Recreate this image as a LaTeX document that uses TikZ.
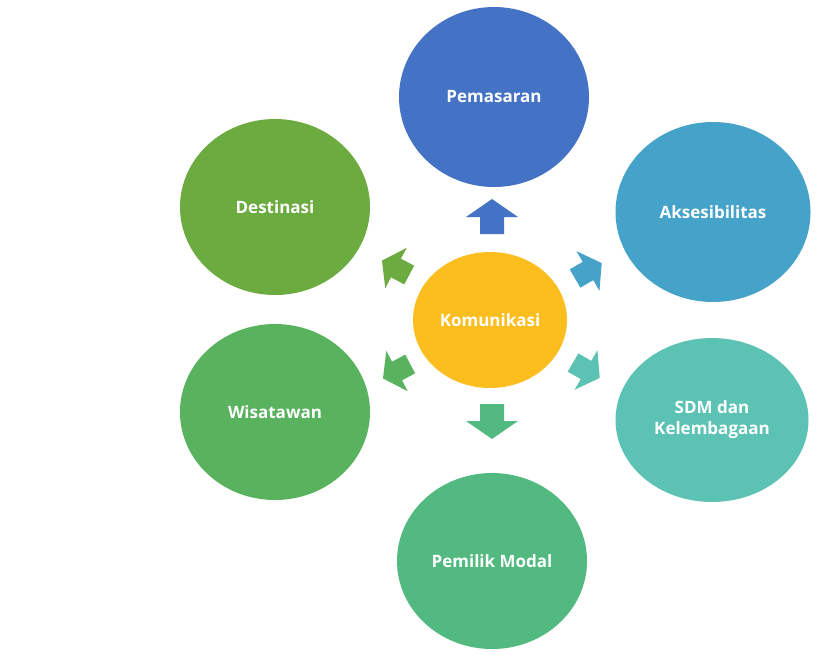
\documentclass[tikz,border=0pt]{standalone}
\usepackage{fontspec}
\setmainfont{Open Sans}
\usetikzlibrary{shapes.geometric}
\definecolor{cBlue}{HTML}{4472C4}
\definecolor{cAks}{HTML}{45A2C8}
\definecolor{cSdm}{HTML}{5CC3B4}
\definecolor{cMod}{HTML}{52BA80}
\definecolor{cWis}{HTML}{58B25E}
\definecolor{cDes}{HTML}{6CAB40}
\definecolor{cKom}{HTML}{FBBE1E}
\tikzset{
  bubble/.style={ellipse, inner sep=0pt, minimum width=190pt, minimum height=180pt,
    text=white, font=\fontsize{17}{21}\selectfont\bfseries, align=center},
  core/.style={bubble, minimum width=154pt, minimum height=136pt},
  blockarrow/.pic={\fill (18,0) -- (0,26) -- (0,12) -- (-17,12) -- (-17,-12) -- (0,-12) -- (0,-26) -- cycle;},
  diag/.style={scale=0.88}
}
\begin{document}
\begin{tikzpicture}[x=1pt,y=-1pt]
\useasboundingbox (0,0) rectangle (826,657);
\fill[white] (0,0) rectangle (826,657);
\node[bubble, fill=cBlue] (pem) at (494,97) {Pemasaran};
\node[bubble, fill=cDes, minimum height=176pt] (des) at (275,207) {Destinasi};
\node[bubble, fill=cAks, minimum width=195pt] (aks) at (713,212) {Aksesibilitas};
\node[bubble, fill=cWis, minimum height=176pt] (wis) at (275,412) {Wisatawan};
\node[bubble, fill=cSdm, minimum width=193pt, minimum height=164pt] (sdm) at (712,420) {SDM dan\\Kelembagaan};
\node[bubble, fill=cMod, minimum height=176pt] (mod) at (492,561) {Pemilik Modal};
\node[core, fill=cKom] (kom) at (490,320) {Komunikasi};
\coordinate (a1) at (492,217);
\coordinate (a2) at (396,268);
\coordinate (a3) at (588,271);
\coordinate (a4) at (397,371);
\coordinate (a5) at (586,370);
\coordinate (a6) at (492,421);
\pic[fill=cBlue, rotate=90] at (a1) {blockarrow};
\pic[fill=cDes, rotate=152, diag] at (a2) {blockarrow};
\pic[fill=cAks, rotate=30, diag] at (a3) {blockarrow};
\pic[fill=cWis, rotate=208, diag] at (a4) {blockarrow};
\pic[fill=cSdm, rotate=330, diag] at (a5) {blockarrow};
\pic[fill=cMod, rotate=270] at (a6) {blockarrow};
\end{tikzpicture}
\end{document}
